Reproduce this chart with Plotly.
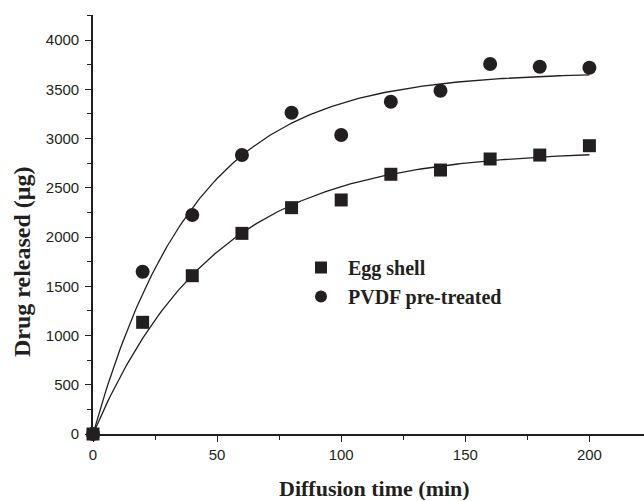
import numpy as np
import plotly.graph_objects as go

time_min = [0, 20, 40, 60, 80, 100, 120, 140, 160, 180, 200]
egg_shell = [0, 1134, 1607, 2037, 2298, 2376, 2637, 2680, 2792, 2832, 2927]
pvdf_pretreated = [0, 1648, 2223, 2832, 3262, 3036, 3374, 3485, 3756, 3729, 3719]
x_ticks = [0, 50, 100, 150, 200]
y_ticks = [0, 500, 1000, 1500, 2000, 2500, 3000, 3500, 4000]

INK = "#231f20"


def fit_first_order(t, y):
    """Least-squares fit of y = A(1 - exp(-k t))."""
    t = np.asarray(t, float)
    y = np.asarray(y, float)
    best = None
    for k in np.linspace(0.001, 0.1, 2000):
        g = 1 - np.exp(-k * t)
        A = (g @ y) / (g @ g)
        err = np.sum((y - A * g) ** 2)
        if best is None or err < best[0]:
            best = (err, A, k)
    return best[1], best[2]


t_fit = np.linspace(0, 200, 201)
fig = go.Figure()
for name, vals, sym, sz in [("Egg shell", egg_shell, "square", 13),
                            ("PVDF pre-treated", pvdf_pretreated, "circle", 14)]:
    A, k = fit_first_order(time_min, vals)
    fig.add_trace(go.Scatter(x=t_fit, y=A * (1 - np.exp(-k * t_fit)), mode="lines",
                             line=dict(color=INK, width=1.3), showlegend=False,
                             hoverinfo="skip"))
    fig.add_trace(go.Scatter(x=time_min, y=vals, mode="markers", name="<b>" + name + "</b>",
                             marker=dict(symbol=sym, size=sz, color=INK),
                             cliponaxis=False))

axis_common = dict(showgrid=False, zeroline=False, showline=True, linecolor=INK,
                   linewidth=1.6, ticks="outside", ticklen=6, tickwidth=1.3,
                   tickcolor=INK, tickfont=dict(family="Liberation Sans", size=15, color=INK))

fig.update_xaxes(range=[0, 222], tickvals=x_ticks,
                 minor=dict(ticks="outside", ticklen=4, tickwidth=1.2, tickcolor=INK, dtick=25, tick0=0),
                 **axis_common)
fig.update_yaxes(range=[0, 4254], tickvals=y_ticks, ticklabelstandoff=3,
                 minor=dict(ticks="outside", ticklen=4, tickwidth=1.2, tickcolor=INK, dtick=250, tick0=0),
                 **axis_common)

fig.update_layout(
    width=644, height=501,
    margin=dict(l=93, r=0, t=15, b=67),
    plot_bgcolor="white", paper_bgcolor="white",
    showlegend=True,
    legend=dict(x=(294 - 93) / 551, y=(434 - 282) / 419, xanchor="left", yanchor="middle",
                bgcolor="rgba(0,0,0,0)", tracegroupgap=0, itemwidth=44,
                font=dict(family="Liberation Serif", size=20, color=INK),
                itemsizing="constant"),
    annotations=[
        dict(text="<b>Diffusion time (min)</b>", xref="paper", yref="paper",
             x=(374.5 - 93) / 551, y=-(488 - 434) / 419, xanchor="center", yanchor="middle",
             showarrow=False, font=dict(family="Liberation Serif", size=22, color=INK)),
        dict(text="<b>Drug released (μg)</b>", xref="paper", yref="paper",
             x=-(93 - 22) / 551, y=(434 - 262) / 419, xanchor="center", yanchor="middle",
             textangle=-90, showarrow=False,
             font=dict(family="Liberation Serif", size=24, color=INK)),
    ],
)

fig.write_html("out.html", config={"displayModeBar": False},
               post_script="document.body.style.margin='0';")
